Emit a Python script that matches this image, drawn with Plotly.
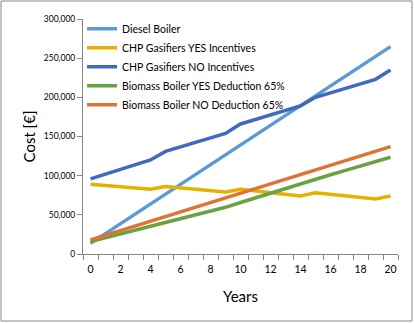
import plotly.graph_objects as go

years = list(range(21))
diesel_boiler = [13.6, 26.2, 38.7, 51.3, 63.8, 76.4, 88.9, 101.5, 114.0, 126.6, 139.1,
                 151.7, 164.2, 176.8, 189.3, 201.9, 214.4, 227.0, 239.5, 252.1, 264.7]
chp_yes = [89.0, 87.4, 85.8, 84.2, 82.6, 86.0, 84.3, 82.6, 80.9, 79.2, 82.6,
           80.5, 78.3, 76.2, 74.0, 78.3, 76.3, 74.2, 72.2, 70.2, 74.0]
chp_no = [96.0, 102.0, 108.0, 114.0, 120.0, 131.0, 137.0, 142.5, 148.0, 154.0, 166.0,
          172.0, 177.5, 183.0, 189.0, 200.0, 206.0, 211.5, 217.0, 223.0, 235.0]
biomass_yes = [16.0, 20.9, 25.9, 30.8, 35.8, 40.6, 45.3, 50.1, 54.8, 59.6, 65.7,
               71.8, 77.8, 83.9, 90.0, 95.6, 101.2, 106.7, 112.3, 117.9, 123.5]
biomass_no = [18.0, 23.9, 29.9, 35.8, 41.8, 47.7, 53.7, 59.6, 65.6, 71.5, 77.5,
              83.4, 89.4, 95.3, 101.3, 107.2, 113.2, 119.1, 125.1, 131.0, 137.0]

series_names = ["Diesel Boiler", "CHP Gasifiers YES Incentives", "CHP Gasifiers NO Incentives",
                "Biomass Boiler YES Deduction 65%", "Biomass Boiler NO Deduction 65%"]
series_values = [diesel_boiler, chp_yes, chp_no, biomass_yes, biomass_no]
colors = ["#5B9BD5", "#E6B000", "#4169BE", "#6AA242", "#E07232"]

x_tick_vals = list(range(0, 21, 2))
y_tick_vals = [0, 50000, 100000, 150000, 200000, 250000, 300000]

FONT = "Lato, 'Open Sans', sans-serif"
fig = go.Figure()
for name, vals, c in zip(series_names, series_values, colors):
    fig.add_trace(go.Scatter(x=years, y=[v * 1000 for v in vals], mode="lines", name=name,
                             line=dict(color=c, width=3.5)))

axis_gray = "#868686"
fig.update_layout(
    width=414, height=323,
    margin=dict(l=83, r=16, t=19, b=69, autoexpand=False),
    paper_bgcolor="white", plot_bgcolor="white",
    font=dict(family=FONT, color="#000000"),
    showlegend=True,
    legend=dict(x=-0.003, y=1.02, xanchor="left", yanchor="top", bgcolor="rgba(0,0,0,0)",
                font=dict(size=10.5, family=FONT), tracegroupgap=0, itemwidth=30),
    xaxis=dict(range=[-0.5, 20.5], tickvals=x_tick_vals, ticktext=[str(v) for v in x_tick_vals],
               ticks="outside", ticklen=5, tickcolor="rgba(0,0,0,0)", automargin=False,
               showline=True, linecolor=axis_gray, linewidth=1, showgrid=False,
               zeroline=False, tickfont=dict(size=10.5),
               minor=dict(tickvals=[i - 0.5 for i in range(22)], ticks="outside", ticklen=5,
                          tickcolor=axis_gray, showgrid=False),
               title=dict(text="Years", font=dict(size=15), standoff=17)),
    yaxis=dict(range=[0, 300000], tickvals=y_tick_vals, tickformat=",", ticks="outside",
               ticklen=5, tickcolor=axis_gray, showline=True, linecolor=axis_gray, linewidth=1,
               showgrid=False, zeroline=False, tickfont=dict(size=8.5), automargin=False,
               title=dict(text="Cost [€]", font=dict(size=15), standoff=4)),
    shapes=[dict(type="rect", xref="paper", yref="paper", x0=-82/315, x1=1+14/315,
                 y0=-67/235, y1=1+18/235, line=dict(color=axis_gray, width=1))],
)
fig.write_html("out.html", config={"displayModeBar": False},
               post_script="document.body.style.margin='0';")
